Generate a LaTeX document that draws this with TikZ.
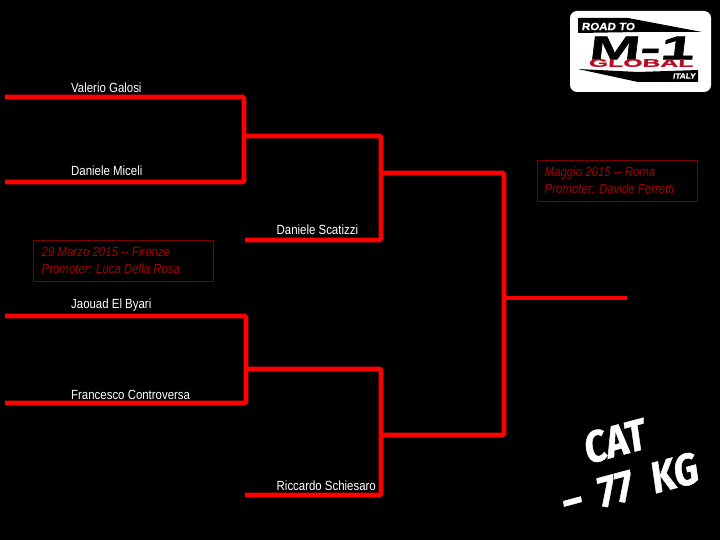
\documentclass[tikz,border=0pt]{standalone}
\usepackage{fontspec}
\setmainfont{Liberation Sans}
\newfontfamily\nmfont[FakeStretch=0.86]{Liberation Sans}
\newfontfamily\catfont[FakeStretch=0.86,FakeSlant=0.12,FakeBold=1]{Fira Sans Bold}
\newfontfamily\logofont[FakeStretch=1.85,FakeSlant=0.12,FakeBold=2]{Liberation Sans Bold}
\newfontfamily\logowide[FakeStretch=2.25,FakeSlant=0.05,FakeBold=1.5]{Liberation Sans Bold}
\newfontfamily\logosmall[FakeStretch=1.1,FakeSlant=0.15,FakeBold=1]{Liberation Sans Bold}
\definecolor{br}{RGB}{255,0,0}
\definecolor{dk}{RGB}{125,0,0}
\definecolor{tx}{RGB}{165,0,0}
\definecolor{lr}{RGB}{190,10,30}
\tikzset{
 x=1pt,y=-1pt,
 wire/.style={draw=br,line width=4.8pt,rounded corners=1.5pt},
 namelabel/.style={text=white,font=\nmfont\fontsize{13.3}{14}\selectfont,inner sep=0pt,anchor=base west},
 infoframe/.style={draw=dk,line width=1pt},
 infotext/.style={text=tx,font=\nmfont\itshape\fontsize{13.3}{17}\selectfont,align=left,anchor=north west,inner sep=0pt},
 cat/.style={text=white,inner sep=0pt,rotate=15},
 logotext/.style={inner sep=0pt}
}
\begin{document}
\begin{tikzpicture}
\fill[black] (0,0) rectangle (720,540);
\useasboundingbox (0,0) rectangle (720,540);
% free ends
\coordinate (a1) at (5,97); \coordinate (a2) at (5,182);
\coordinate (a) at (244,97); \coordinate (b) at (244,182);
\coordinate (ab) at (244,136); \coordinate (c) at (381,136);
\coordinate (d) at (381,240); \coordinate (d1) at (245,240);
\coordinate (cd) at (381,173); \coordinate (e) at (504,173);
\coordinate (f) at (504,435); \coordinate (fg) at (381,435);
\coordinate (g1) at (5,316); \coordinate (g) at (246,316);
\coordinate (h1) at (5,403); \coordinate (h) at (246,403);
\coordinate (gh) at (246,369); \coordinate (i) at (381,369);
\coordinate (j) at (381,495); \coordinate (j1) at (245,495);
\coordinate (ef) at (504,298); \coordinate (w) at (627,298);
\draw[wire] (a1) -- (a) -- (b) -- (a2);
\draw[wire] (ab) -- (c) -- (d) -- (d1);
\draw[wire] (cd) -- (e) -- (f) -- (fg);
\draw[wire] (g1) -- (g) -- (h) -- (h1);
\draw[wire] (gh) -- (i) -- (j) -- (j1);
\draw[wire] (ef) -- (w);
\node[namelabel] (n1) at (71,92.5) {Valerio Galosi};
\node[namelabel] (n2) at (71,175.5) {Daniele Miceli};
\node[namelabel] (n3) at (276.5,234) {Daniele Scatizzi};
\node[namelabel] (n4) at (71,308.5) {Jaouad El Byari};
\node[namelabel] (n5) at (71,399) {Francesco Controversa};
\node[namelabel] (n6) at (276.5,490) {Riccardo Schiesaro};
\draw[infoframe] (33.5,240.5) rectangle (213.5,281);
\draw[infoframe] (537,160.5) rectangle (697,201.5);
\node[infotext] (i1) at (41.5,246.5) {29 Marzo 2015 -- Firenze\\Promoter: Luca Della Rosa};
\node[infotext] (i2) at (544.5,167) {Maggio 2015 -- Roma\\Promoter: Davide Ferretti};
\node[cat,font=\catfont\fontsize{44}{44}\selectfont] (c1) at (613.5,441.5) {CAT};
\node[cat,font=\catfont\fontsize{44}{44}\selectfont] (c2) at (628.5,485) {\textendash\hspace{17pt}77\hspace{20pt}KG};
% logo
\fill[white,rounded corners=7pt] (570,11) rectangle (711,92);
\fill[black] (578,18) -- (628,18) -- (702,32) -- (638,32) -- (578,33) -- cycle;
\fill[black] (578,69) -- (638,72) -- (698,70) -- (698,82) -- (638,82) -- cycle;
\node[logotext,text=white,font=\logosmall\fontsize{10.5}{11}\selectfont] (l1) at (608,26.5) {ROAD TO};
\node[logotext,text=black,font=\logofont\fontsize{33}{33}\selectfont] (l2) at (641,48) {M-1};
\node[logotext,text=lr,font=\logowide\fontsize{11}{12}\selectfont] (l3) at (641,63) {GLOBAL};
\node[logotext,text=white,font=\logosmall\fontsize{7.5}{8}\selectfont] (l4) at (684,76) {ITALY};
\end{tikzpicture}
\end{document}
